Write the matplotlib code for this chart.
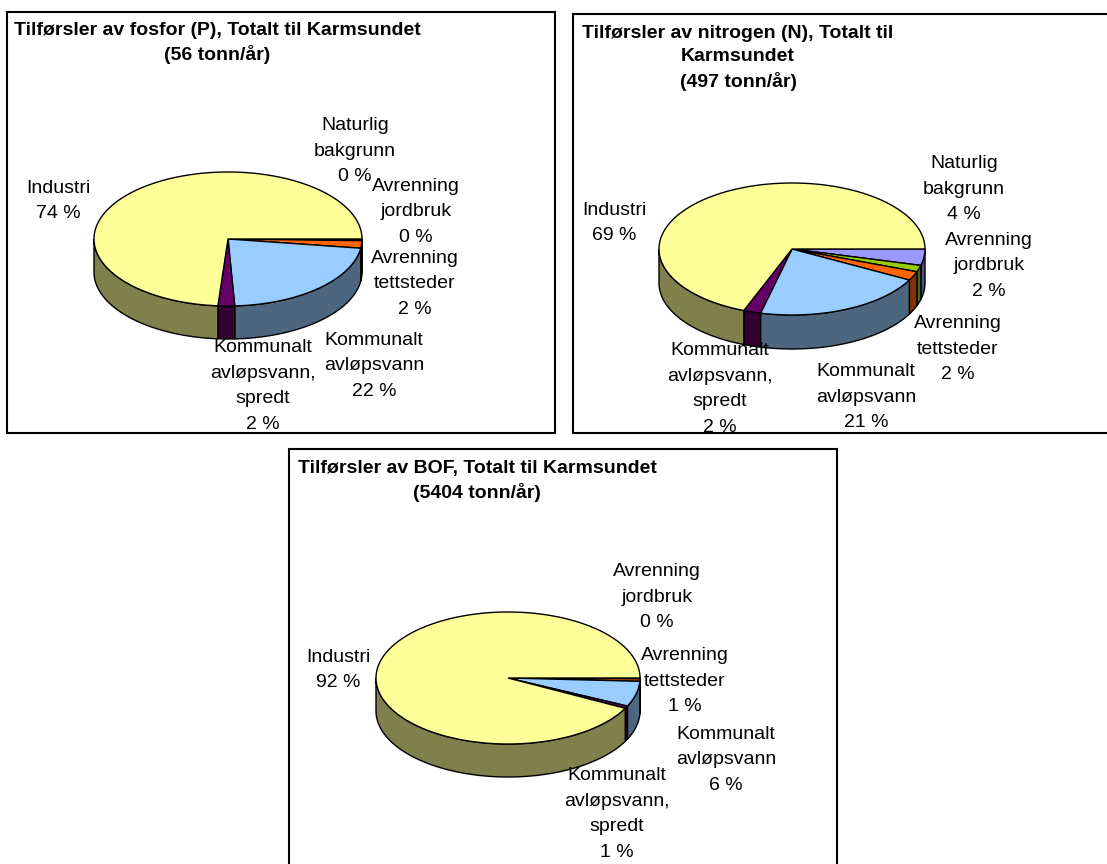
import numpy as np
import matplotlib
matplotlib.use("Agg")
import matplotlib.pyplot as plt
from matplotlib.patches import Polygon, Rectangle

plt.rcParams['font.family'] = ['Liberation Sans', 'DejaVu Sans']

# --- data -------------------------------------------------------------
categories = [
    "Naturlig\nbakgrunn",
    "Avrenning\njordbruk",
    "Avrenning\ntettsteder",
    "Kommunalt\navløpsvann",
    "Kommunalt\navløpsvann,\nspredt",
    "Industri",
]
fosfor_pct = [0.2, 0.2, 1.8, 22.0, 2.0, 73.8]
nitrogen_pct = [4.0, 1.6, 2.2, 21.0, 2.1, 69.1]
bof_pct = [0.0, 0.2, 0.6, 6.2, 0.6, 92.4]

titles = [
    "Tilførsler av fosfor (P), Totalt til Karmsundet\n(56 tonn/år)",
    "Tilførsler av nitrogen (N), Totalt til\nKarmsundet\n(497 tonn/år)",
    "Tilførsler av BOF, Totalt til Karmsundet\n(5404 tonn/år)",
]

slice_colors = ["#9999FF", "#99CC00", "#FF6600", "#99CCFF", "#660066", "#FFFF99"]

# --- layout (pixel coordinates, y grows downwards) --------------------
W, H = 1107, 864
panels = [
    dict(box=(7, 12, 555, 433), title_xy=(217, 43),
         pie=(228, 239, 134, 67, 33),
         label_xy=[(355, 151), (416, 212), (415, 284), (374, 366), (263, 386), (58, 201)]),
    dict(box=(573, 14, 1112, 433), title_xy=(738, 58),
         pie=(792, 249, 133, 66, 34),
         label_xy=[(964, 189), (989, 266), (958, 349), (866, 397), (720, 389), (614, 223)]),
    dict(box=(289, 449, 837, 872), title_xy=(477, 481),
         pie=(508, 678, 132, 66, 33),
         label_xy=[None, (657, 597), (685, 681), (726, 760), (617, 814), (338, 670)]),
]
series = [fosfor_pct, nitrogen_pct, bof_pct]


def shade(hex_color, f=0.5):
    r, g, b = matplotlib.colors.to_rgb(hex_color)
    return (r * f, g * f, b * f)


def draw_pie3d(ax, values, cx, cy, rx, ry, depth):
    vals = np.asarray(values, dtype=float)
    frac = vals / vals.sum()
    bounds = np.concatenate([[0.0], np.cumsum(frac)]) * 2 * np.pi
    # side walls on the visible (front) half of the disc
    for i, (a, b) in enumerate(zip(bounds[:-1], bounds[1:])):
        if vals[i] <= 0:
            continue
        lo, hi = max(a, 0.0), min(b, np.pi)
        if hi > lo:
            t = np.linspace(lo, hi, max(4, int((hi - lo) * 80)))
            xs = cx + rx * np.cos(t)
            ys = cy + ry * np.sin(t)
            pts = np.vstack([np.column_stack([xs, ys]),
                             np.column_stack([xs[::-1], ys[::-1] + depth])])
            ax.add_patch(Polygon(pts, closed=True, facecolor=shade(slice_colors[i]),
                                 edgecolor="black", linewidth=1.0, zorder=2))
    # top surface
    for i, (a, b) in enumerate(zip(bounds[:-1], bounds[1:])):
        if vals[i] <= 0:
            continue
        t = np.linspace(a, b, max(3, int((b - a) * 80)))
        pts = np.vstack([[cx, cy], np.column_stack([cx + rx * np.cos(t), cy + ry * np.sin(t)])])
        ax.add_patch(Polygon(pts, closed=True, facecolor=slice_colors[i],
                             edgecolor="black", linewidth=1.0, zorder=3))


fig = plt.figure(figsize=(W / 100, H / 100), dpi=100)
ax = fig.add_axes([0, 0, 1, 1])
ax.set_xlim(0, W)
ax.set_ylim(H, 0)
ax.axis("off")

for panel, vals, title in zip(panels, series, titles):
    x0, y0, x1, y1 = panel["box"]
    ax.add_patch(Rectangle((x0, y0), x1 - x0, y1 - y0, facecolor="white",
                           edgecolor="black", linewidth=1.5, zorder=1, clip_on=False))
    tx, ty = panel["title_xy"]
    ax.text(tx, ty, title, ha="center", va="center", multialignment="center",
            fontsize=14, fontweight="bold", linespacing=1.45, zorder=5)
    draw_pie3d(ax, vals, *panel["pie"])
    for name, v, xy in zip(categories, vals, panel["label_xy"]):
        if xy is None:
            continue
        ax.text(xy[0], xy[1], f"{name}\n{round(v):d} %", ha="center", va="center",
                multialignment="center", fontsize=14, linespacing=1.66, zorder=6)

fig.savefig("out.png", dpi=100, facecolor="white")
